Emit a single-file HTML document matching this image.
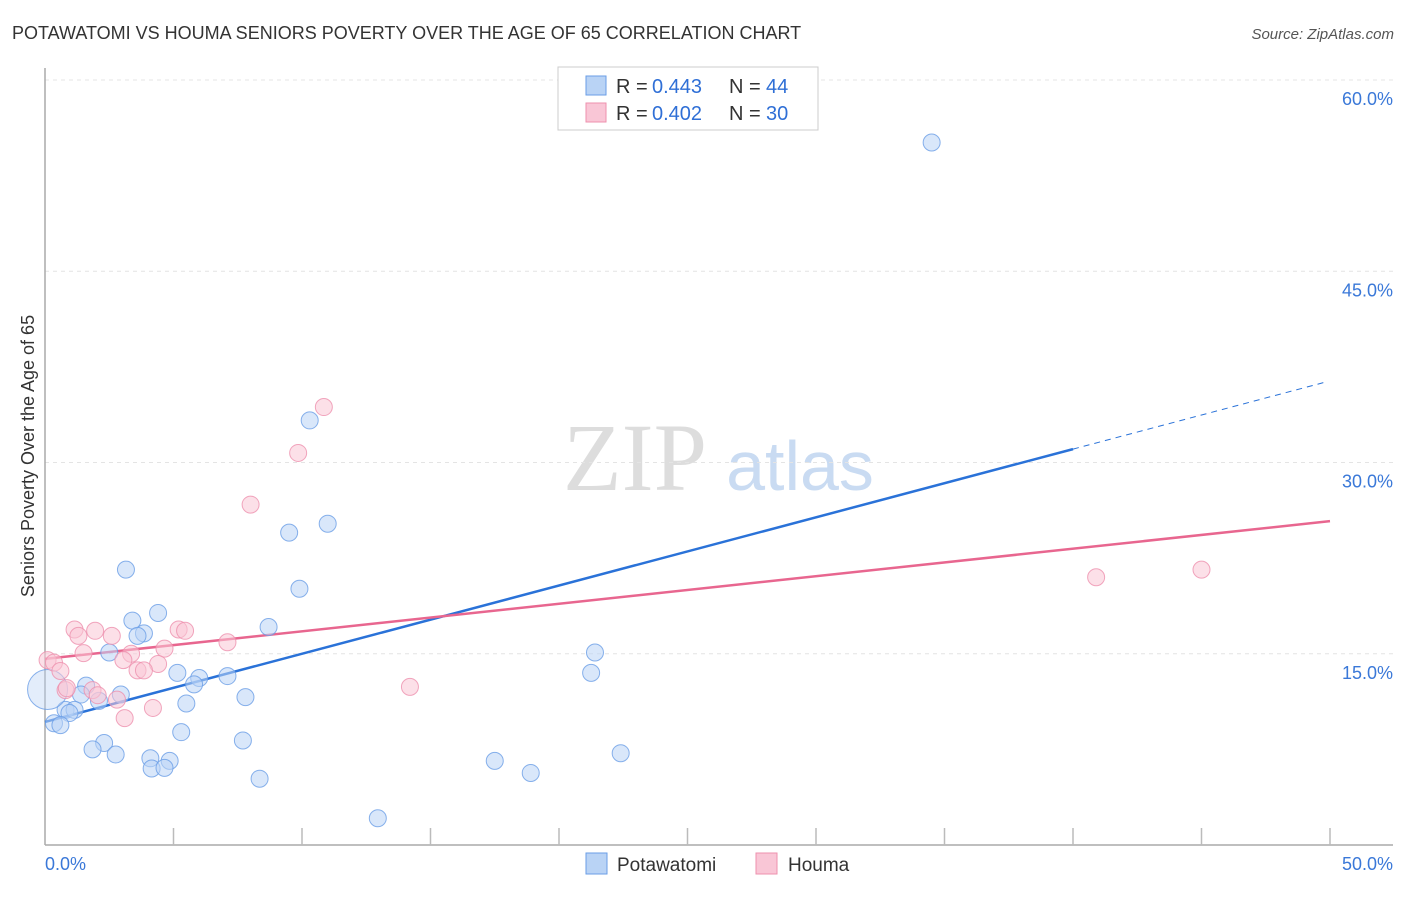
<!DOCTYPE html>
<html><head><meta charset="utf-8"><style>
body{margin:0;background:#fff;font-family:"Liberation Sans",sans-serif;}
svg text{font-family:"Liberation Sans",sans-serif;}
</style></head><body>
<svg id="c" width="1406" height="892" viewBox="0 0 1406 892">
<text x="12" y="39" font-size="18" fill="#333">POTAWATOMI VS HOUMA SENIORS POVERTY OVER THE AGE OF 65 CORRELATION CHART</text>
<text x="1394" y="39" font-size="15" fill="#555" text-anchor="end" font-style="italic">Source: ZipAtlas.com</text>
<text x="0" y="0" transform="translate(34,456) rotate(-90)" font-size="18" fill="#333" text-anchor="middle">Seniors Poverty Over the Age of 65</text>
<g><text x="635" y="490" font-size="96" fill="#ddd" font-family="Liberation Serif" text-anchor="middle" style="font-family:'Liberation Serif',serif">ZIP</text><text x="800" y="490" font-size="70" fill="#c9dbf2" text-anchor="middle">atlas</text></g>
<g id="grid"></g><g id="axes"></g><g id="lines"></g><g id="pts"></g>
<g>
<rect x="558" y="67" width="260" height="63" fill="#fff" stroke="#ccc"/>
<rect x="586" y="76" width="20" height="19" fill="#b9d3f5" stroke="#6a9ee6"/>
<rect x="586" y="103" width="20" height="19" fill="#f9c6d6" stroke="#ee90ae"/>
<g font-size="20" fill="#333">
<text x="616" y="93">R =</text><text x="652" y="93" fill="#2f6fd6">0.443</text><text x="729" y="93">N =</text><text x="766" y="93" fill="#2f6fd6">44</text></g>
<g font-size="20" fill="#333">
<text x="616" y="120">R =</text><text x="652" y="120" fill="#2f6fd6">0.402</text><text x="729" y="120">N =</text><text x="766" y="120" fill="#2f6fd6">30</text></g>
</g>
<g>
<rect x="586" y="853" width="21" height="21" fill="#b9d3f5" stroke="#6a9ee6"/>
<text x="617" y="871" font-size="19" fill="#333">Potawatomi</text>
<rect x="756" y="853" width="21" height="21" fill="#f9c6d6" stroke="#ee90ae"/>
<text x="788" y="871" font-size="19" fill="#333">Houma</text>
</g>
</svg>
<script>
const blueX=[34.5,10.3,11.0,9.5,3.15,9.9,4.4,3.4,3.85,3.6,8.7,2.5,21.4,5.15,21.25,6.0,7.1,5.8,1.6,2.95,1.4,7.8,5.5,2.1,0.8,1.15,0.95,0.35,0.6,5.3,7.7,2.3,1.85,2.75,4.1,4.85,4.15,4.65,22.4,17.5,18.9,8.35,12.95,0.1];
const blueY=[55.1,33.3,25.2,24.5,21.6,20.1,18.2,17.6,16.6,16.4,17.1,15.1,15.1,13.5,13.5,13.1,13.25,12.6,12.5,11.8,11.8,11.6,11.1,11.3,10.6,10.6,10.35,9.55,9.4,8.85,8.2,8.0,7.5,7.1,6.8,6.6,6.0,6.05,7.2,6.6,5.65,5.2,2.1,12.2];
const pinkX=[10.85,9.85,8.0,40.9,45.0,1.15,1.95,1.3,2.6,5.2,5.45,7.1,1.5,3.35,4.65,0.1,0.35,0.6,3.05,4.4,3.6,3.85,0.8,1.85,2.05,2.8,14.2,4.2,3.1,0.85];
const pinkY=[34.35,30.75,26.7,21.0,21.6,16.9,16.8,16.4,16.4,16.9,16.8,15.9,15.05,15.0,15.4,14.5,14.3,13.65,14.5,14.2,13.7,13.7,12.15,12.15,11.75,11.4,12.4,10.75,9.95,12.3];
const blueFit=[9.65,0.535];
const pinkFit=[14.6,0.216];
const yTicks=[15,30,45,60];
const xTickLabels=["0.0%","50.0%"];
const NS="http://www.w3.org/2000/svg";
const sx=v=>45+v*25.7, sy=v=>845-v*12.75;
function mk(tag,attrs,parent){const e=document.createElementNS(NS,tag);for(const k in attrs)e.setAttribute(k,attrs[k]);document.getElementById(parent).appendChild(e);return e;}
yTicks.forEach(t=>{
 const g=mk('line',{x1:45,x2:1393,y1:sy(t),y2:sy(t),stroke:'#e4e4e4','stroke-dasharray':'4,4'},'grid');
 
 
 const l=mk('text',{x:1393,y:sy(t)+25,'font-size':18,fill:'#3a78d8','text-anchor':'end'},'grid');
 l.textContent=t.toFixed(1)+'%';
 
 
});
const ax=mk('line',{x1:45,x2:45,y1:68,y2:845,stroke:'#aaa','stroke-width':1.5},'axes');


const bx=mk('line',{x1:45,x2:1393,y1:845,y2:845,stroke:'#aaa','stroke-width':1.5},'axes');


for(let v=5;v<=50;v+=5){const t=mk('line',{x1:sx(v),x2:sx(v),y1:828,y2:845,stroke:'#bbb','stroke-width':1.5},'axes');
 
 }
[[0,'start',45],[50,'end',1393]].forEach((a,i)=>{const t=mk('text',{x:a[2],y:870,'font-size':18,fill:'#3a78d8','text-anchor':a[1]},'axes');t.textContent=xTickLabels[i];
 
 });
function pts(X,Y,fill,stroke,name){X.forEach((x,i)=>{const big=(name==='potawatomi'&&i===X.length-1);
 const c=mk('circle',{cx:sx(x),cy:sy(Y[i]),r:big?20:8.5,fill:fill,'fill-opacity':big?0.4:0.55,stroke:stroke,'stroke-opacity':0.8,'stroke-width':1},'pts');
 
 });}
pts(blueX,blueY,'#b9d3f5','#6a9ee6','potawatomi');
pts(pinkX,pinkY,'#f9c6d6','#ee90ae','houma');
const b1=mk('line',{x1:sx(0),y1:sy(blueFit[0]),x2:sx(40),y2:sy(blueFit[0]+40*blueFit[1]),stroke:'#2a72d8','stroke-width':2.5},'lines');


const b2=mk('line',{x1:sx(40),y1:sy(blueFit[0]+40*blueFit[1]),x2:sx(49.9),y2:sy(blueFit[0]+49.9*blueFit[1]),stroke:'#2a72d8','stroke-width':1,'stroke-dasharray':'6,5'},'lines');


const p1=mk('line',{x1:sx(0),y1:sy(pinkFit[0]),x2:sx(50),y2:sy(pinkFit[0]+50*pinkFit[1]),stroke:'#e8668f','stroke-width':2.5},'lines');


</script>
</body></html>
